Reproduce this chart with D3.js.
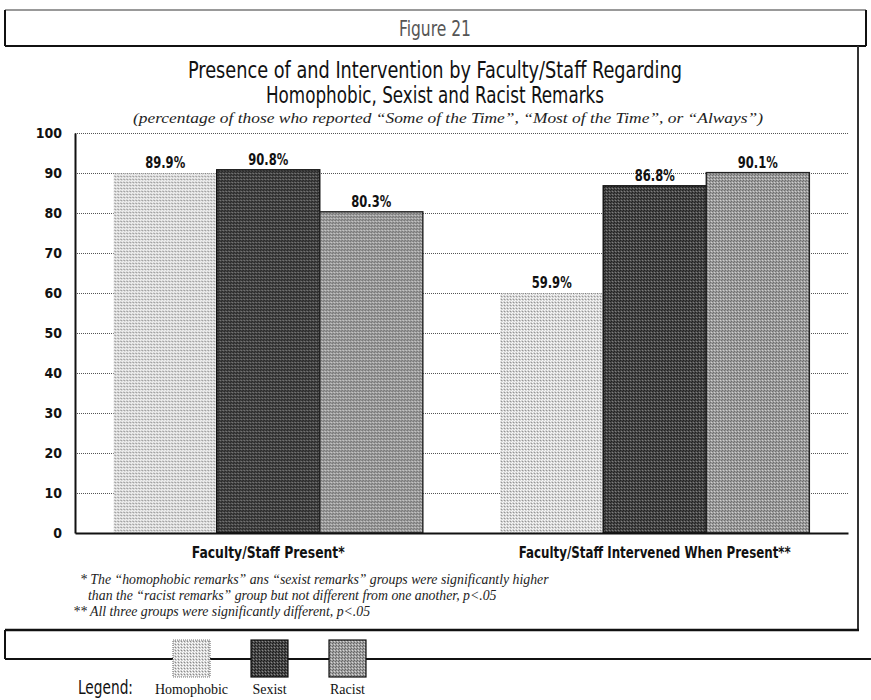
<!DOCTYPE html>
<html>
<head>
<meta charset="utf-8">
<script src="https://cdn.jsdelivr.net/npm/d3@7"></script>
<style>
  html, body { margin: 0; padding: 0; background: #fff; }
  svg { display: block; }
</style>
</head>
<body>
<svg id="chart" width="871" height="700"></svg>
<script>
// ---------------- data ----------------
const categories = ["Faculty/Staff Present*", "Faculty/Staff Intervened When Present**"];
const seriesNames = ["Homophobic", "Sexist", "Racist"];
const homophobic = [89.9, 59.9];
const sexist = [90.8, 86.8];
const racist = [80.3, 90.1];
const yTicks = [0, 10, 20, 30, 40, 50, 60, 70, 80, 90, 100];
const figureLabel = "Figure 21";
const titleLines = ["Presence of and Intervention by Faculty/Staff Regarding", "Homophobic, Sexist and Racist Remarks"];
const subtitle = "(percentage of those who reported \u201CSome of the Time\u201D, \u201CMost of the Time\u201D, or \u201CAlways\u201D)";
const footnotes = [
  "* The \u201Chomophobic remarks\u201D ans \u201Csexist remarks\u201D groups were significantly higher",
  "than the \u201Cracist remarks\u201D group but not different from one another, p<.05",
  "** All three groups were significantly different, p<.05"
];

const seriesValues = [homophobic, sexist, racist];
const table = categories.map((c, i) => ({
  category: c,
  values: seriesNames.map((s, j) => ({ series: s, value: seriesValues[j][i] }))
}));

// ---------------- styles ----------------
const narrow = "'Liberation Sans Narrow','DejaVu Sans Condensed',sans-serif";
const condBold = "'DejaVu Sans Condensed','Liberation Sans Narrow',sans-serif";
const serif = "'Liberation Serif','DejaVu Serif',serif";

const svg = d3.select("#chart");
const defs = svg.append("defs");

function dither(id, a, b, c) {
  const p = defs.append("pattern").attr("id", id).attr("patternUnits", "userSpaceOnUse")
    .attr("width", 3).attr("height", 3);
  p.append("rect").attr("width", 3).attr("height", 3).attr("fill", a);
  p.append("rect").attr("x", 0).attr("y", 0).attr("width", 1).attr("height", 1).attr("fill", b);
  p.append("rect").attr("x", 2).attr("y", 1).attr("width", 1).attr("height", 1).attr("fill", b);
  p.append("rect").attr("x", 1).attr("y", 2).attr("width", 1).attr("height", 1).attr("fill", c);
}
dither("pHomo", "#d4d4d4", "#ffffff", "#8a8a8a");
dither("pSex", "#474747", "#1a1a1a", "#888888");
dither("pRac", "#9e9e9e", "#666666", "#d6d6d6");
const fills = { Homophobic: "url(#pHomo)", Sexist: "url(#pSex)", Racist: "url(#pRac)" };
const strokes = { Homophobic: "none", Sexist: "#111", Racist: "#222" };

// ---------------- frames ----------------
const frame = svg.append("g").attr("fill", "none");
frame.append("line").attr("x1", 5).attr("x2", 866).attr("y1", 10).attr("y2", 10).attr("stroke", "#777").attr("stroke-width", 1.5);
frame.append("line").attr("x1", 5).attr("x2", 5).attr("y1", 10).attr("y2", 46).attr("stroke", "#111").attr("stroke-width", 2);
frame.append("line").attr("x1", 866).attr("x2", 866).attr("y1", 10).attr("y2", 46).attr("stroke", "#111").attr("stroke-width", 2);
frame.append("line").attr("x1", 5).attr("x2", 866).attr("y1", 46).attr("y2", 46).attr("stroke", "#111").attr("stroke-width", 2);
frame.append("line").attr("x1", 858).attr("x2", 858).attr("y1", 46).attr("y2", 630).attr("stroke", "#333").attr("stroke-width", 2);
frame.append("line").attr("x1", 5).attr("x2", 859).attr("y1", 630).attr("y2", 630).attr("stroke", "#111").attr("stroke-width", 2.5);
frame.append("line").attr("x1", 5).attr("x2", 5).attr("y1", 630).attr("y2", 659).attr("stroke", "#111").attr("stroke-width", 2);
frame.append("line").attr("x1", 5).attr("x2", 871).attr("y1", 659).attr("y2", 659).attr("stroke", "#111").attr("stroke-width", 2);

// ---------------- titles ----------------
svg.append("text").attr("x", 435).attr("y", 36).attr("text-anchor", "middle")
  .attr("font-family", narrow).attr("font-size", 21).attr("fill", "#555")
  .attr("textLength", 72).attr("lengthAdjust", "spacingAndGlyphs").text(figureLabel);
const tw = [494, 338];
titleLines.forEach((t, i) => {
  svg.append("text").attr("x", 435).attr("y", 78 + i * 25).attr("text-anchor", "middle")
    .attr("font-family", narrow).attr("font-size", 23).attr("fill", "#111")
    .attr("textLength", tw[i]).attr("lengthAdjust", "spacingAndGlyphs").text(t);
});
svg.append("text").attr("x", 448).attr("y", 123).attr("text-anchor", "middle")
  .attr("font-family", serif).attr("font-style", "italic").attr("font-size", 14).attr("fill", "#222")
  .attr("textLength", 630).attr("lengthAdjust", "spacingAndGlyphs").text(subtitle);

// ---------------- scales ----------------
const plotL = 75, plotR = 848, plotT = 133, plotB = 533;
const x0 = d3.scaleBand().domain(categories).range([plotL, plotR]).paddingInner(0.2).paddingOuter(0.1);
const x1 = d3.scaleBand().domain(seriesNames).range([0, x0.bandwidth()]);
const y = d3.scaleLinear().domain([0, 100]).range([plotB, plotT]);

// grid
const grid = svg.append("g").attr("transform", `translate(${plotL},0)`)
  .call(d3.axisLeft(y).tickValues(yTicks.filter(v => v > 0)).tickSize(-(plotR - plotL)).tickFormat(""));
grid.select(".domain").remove();
grid.selectAll(".tick line").attr("stroke", "#555").attr("stroke-width", 1).attr("stroke-dasharray", "1,1");

// bars
const groups = svg.append("g").selectAll("g").data(table).join("g")
  .attr("transform", d => `translate(${x0(d.category)},0)`);
groups.selectAll("rect").data(d => d.values).join("rect")
  .attr("x", d => x1(d.series))
  .attr("y", d => y(d.value))
  .attr("width", x1.bandwidth())
  .attr("height", d => y(0) - y(d.value))
  .attr("fill", d => fills[d.series])
  .attr("stroke", d => strokes[d.series])
  .attr("stroke-width", 1.4);
groups.selectAll("text").data(d => d.values).join("text")
  .attr("x", d => x1(d.series) + x1.bandwidth() / 2)
  .attr("y", d => y(d.value) - 5)
  .attr("text-anchor", "middle")
  .attr("font-family", narrow).attr("font-weight", "bold").attr("font-size", 16).attr("fill", "#111")
  .attr("textLength", 40).attr("lengthAdjust", "spacingAndGlyphs")
  .text(d => d.value.toFixed(1) + "%");

// y axis
const yAxis = svg.append("g").attr("transform", `translate(${plotL},0)`)
  .call(d3.axisLeft(y).tickValues(yTicks).tickSize(0).tickPadding(13));
yAxis.select(".domain").attr("stroke", "#111").attr("stroke-width", 2);
yAxis.selectAll(".tick text").attr("font-family", condBold).attr("font-weight", "bold")
  .attr("font-size", 14).attr("fill", "#111");

// x axis
const xAxis = svg.append("g").attr("transform", `translate(0,${plotB})`)
  .call(d3.axisBottom(x0).tickSize(0).tickPadding(14));
xAxis.select(".domain").attr("stroke", "#111").attr("stroke-width", 2.2);
const xw = [153, 272];
xAxis.selectAll(".tick text").attr("font-family", narrow).attr("font-weight", "bold")
  .attr("font-size", 16).attr("fill", "#111")
  .attr("textLength", (d, i) => xw[i]).attr("lengthAdjust", "spacingAndGlyphs");

// footnotes
const fx = [80, 88, 73];
footnotes.forEach((t, i) => {
  svg.append("text").attr("x", fx[i]).attr("y", 584 + i * 16)
    .attr("font-family", serif).attr("font-style", "italic").attr("font-size", 13.8).attr("fill", "#222")
    .text(t);
});

// legend
const lx = d3.scaleOrdinal().domain(seriesNames).range([173, 251, 329]);
const leg = svg.append("g");
leg.selectAll("rect").data(seriesNames).join("rect")
  .attr("x", d => lx(d)).attr("y", 640).attr("width", 37).attr("height", 37)
  .attr("fill", d => fills[d])
  .attr("stroke", d => d === "Homophobic" ? "#777" : "#111")
  .attr("stroke-dasharray", d => d === "Homophobic" ? "1,1" : null)
  .attr("stroke-width", 1.2);
leg.selectAll("text.lab").data(seriesNames).join("text").attr("class", "lab")
  .attr("x", d => lx(d) + 18.5).attr("y", 694).attr("text-anchor", "middle")
  .attr("font-family", serif).attr("font-size", 14).attr("fill", "#111")
  .text(d => d);
leg.append("text").attr("x", 78).attr("y", 694)
  .attr("font-family", narrow).attr("font-size", 19).attr("fill", "#111")
  .attr("textLength", 55).attr("lengthAdjust", "spacingAndGlyphs").text("Legend:");
</script>
</body>
</html>
